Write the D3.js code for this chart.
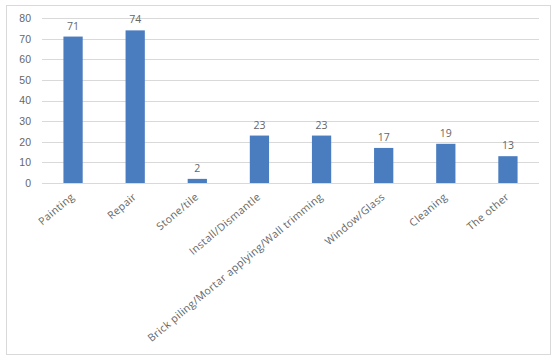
<!DOCTYPE html>
<html>
<head>
<meta charset="utf-8">
<script src="https://cdn.jsdelivr.net/npm/d3@7"></script>
<style>
  body { margin: 0; background: #fff; }
  svg { display: block; font-family: "Open Sans", "Liberation Sans", sans-serif; }
</style>
</head>
<body>
<div id="chart"></div>
<script>
// data
var categories = ["Painting", "Repair", "Stone/tile", "Install/Dismantle",
  "Brick piling/Mortar applying/Wall trimming", "Window/Glass", "Cleaning", "The other"];
var values = [71, 74, 2, 23, 23, 17, 19, 13];
var yTicks = [0, 10, 20, 30, 40, 50, 60, 70, 80];

var width = 560, height = 358;
var margin = {left: 42, right: 21, top: 18, bottom: 175};

var svg = d3.select('#chart').append('svg')
  .attr('width', width)
  .attr('height', height);

// chart frame
svg.append('rect')
  .attr('x', 6.5).attr('y', 5.5)
  .attr('width', 544).attr('height', 349)
  .attr('fill', '#fff')
  .attr('stroke', '#d9d9d9');

var x = d3.scaleBand()
  .domain(categories)
  .range([margin.left, width - margin.right])
  .paddingInner(0.69)
  .paddingOuter(0.345);

var y = d3.scaleLinear()
  .domain([0, 80])
  .range([height - margin.bottom, margin.top]);

// gridlines
svg.append('g').selectAll('line')
  .data(yTicks)
  .enter().append('line')
  .attr('x1', margin.left).attr('x2', width - margin.right)
  .attr('y1', function(d) { return Math.round(y(d)) + 0.5; })
  .attr('y2', function(d) { return Math.round(y(d)) + 0.5; })
  .attr('stroke', '#d9d9d9');

// y axis
var yAxis = svg.append('g')
  .attr('transform', 'translate(' + (margin.left - 11) + ',0)')
  .call(d3.axisLeft(y).tickValues(yTicks).tickSize(0).tickPadding(0));
yAxis.select('.domain').remove();
yAxis.selectAll('text').attr('fill', '#666').style('font-size', '10.5px');

// bars
svg.append('g').selectAll('rect')
  .data(values)
  .enter().append('rect')
  .attr('x', function(d, i) { return x(categories[i]); })
  .attr('y', function(d) { return y(d); })
  .attr('width', x.bandwidth())
  .attr('height', function(d) { return y(0) - y(d); })
  .attr('fill', '#4a7cc0');

// value labels
svg.append('g').selectAll('text')
  .data(values)
  .enter().append('text')
  .attr('x', function(d, i) { return x(categories[i]) + x.bandwidth() / 2; })
  .attr('y', function(d) { return y(d) - 7; })
  .attr('text-anchor', 'middle')
  .attr('fill', '#666')
  .style('font-size', '10.5px')
  .text(function(d) { return d; });

// category labels, rotated
svg.append('g').selectAll('text')
  .data(categories)
  .enter().append('text')
  .attr('transform', function(d) {
    return 'translate(' + (x(d) + x.bandwidth() / 2 + 2) + ',' + (y(0) + 15) + ') rotate(-40)';
  })
  .attr('text-anchor', 'end')
  .attr('fill', '#666')
  .style('font-size', '10.5px')
  .style('letter-spacing', '0.4px')
  .text(function(d) { return d; });
</script>
</body>
</html>
